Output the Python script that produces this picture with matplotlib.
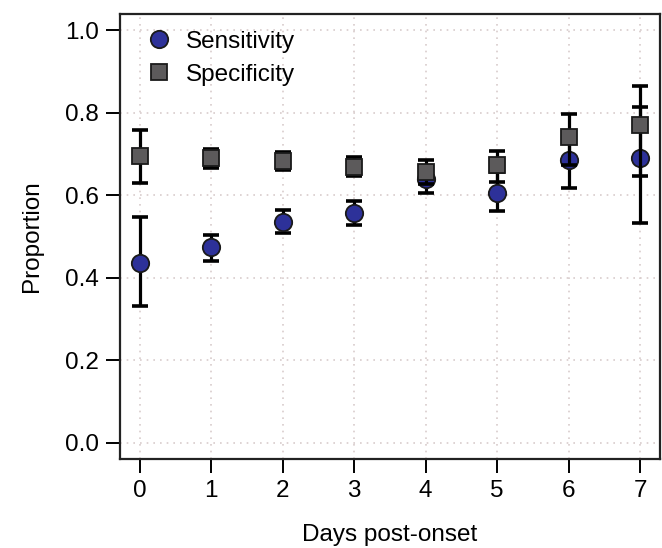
import numpy as np
import matplotlib.pyplot as plt

plt.rcParams['font.family'] = ['Liberation Sans', 'DejaVu Sans']

days = np.array([0, 1, 2, 3, 4, 5, 6, 7])

sens = np.array([0.436, 0.474, 0.536, 0.556, 0.640, 0.606, 0.686, 0.690])
sens_lo = np.array([0.332, 0.440, 0.508, 0.528, 0.606, 0.562, 0.617, 0.533])
sens_hi = np.array([0.548, 0.504, 0.564, 0.586, 0.668, 0.656, 0.745, 0.814])

spec = np.array([0.696, 0.689, 0.683, 0.669, 0.657, 0.673, 0.741, 0.769])
spec_lo = np.array([0.629, 0.667, 0.661, 0.646, 0.626, 0.631, 0.674, 0.646])
spec_hi = np.array([0.758, 0.712, 0.705, 0.692, 0.685, 0.708, 0.797, 0.864])

fig = plt.figure(figsize=(6.62, 5.48), dpi=100)
ax = fig.add_axes([0.181, 0.162, 0.816, 0.813])

ax.grid(True, color='#d8cccc', linestyle=(0, (1, 3)), linewidth=1.2)
ax.set_axisbelow(True)

ax.errorbar(days, sens, yerr=[sens - sens_lo, sens_hi - sens], fmt='none',
            ecolor='black', elinewidth=2.3, capsize=5.8, capthick=2.6, zorder=2)
ax.plot(days, sens, 'o', color='#2d3199', markeredgecolor='#1a1a1a',
        markeredgewidth=1.3, markersize=12.5, label='Sensitivity', zorder=3)
ax.errorbar(days, spec, yerr=[spec - spec_lo, spec_hi - spec], fmt='none',
            ecolor='black', elinewidth=2.3, capsize=5.8, capthick=2.6, zorder=4)
ax.plot(days, spec, 's', color='#5c5a5b', markeredgecolor='#1a1a1a',
        markeredgewidth=1.3, markersize=11.5, label='Specificity', zorder=5)

ax.set_xlim(-0.28, 7.28)
ax.set_ylim(-0.04, 1.04)
ax.set_xticks(days)
ax.set_yticks([0.0, 0.2, 0.4, 0.6, 0.8, 1.0])
ax.set_yticklabels(['0.0', '0.2', '0.4', '0.6', '0.8', '1.0'])
ax.tick_params(direction='out', length=10, width=1.4, labelsize=17.5, pad=5)

for s in ax.spines.values():
    s.set_linewidth(1.6)
    s.set_color('#222222')

ax.set_xlabel('Days post-onset', fontsize=17.5, labelpad=16)
ax.set_ylabel('Proportion', fontsize=17.5, labelpad=16)

ax.legend(loc='upper left', bbox_to_anchor=(0.005, 1.0), frameon=False,
          fontsize=17.5, handletextpad=0.3, borderaxespad=0.3,
          labelspacing=0.45, markerscale=1.0, handlelength=1.6)

fig.savefig('out.png', dpi=100)
